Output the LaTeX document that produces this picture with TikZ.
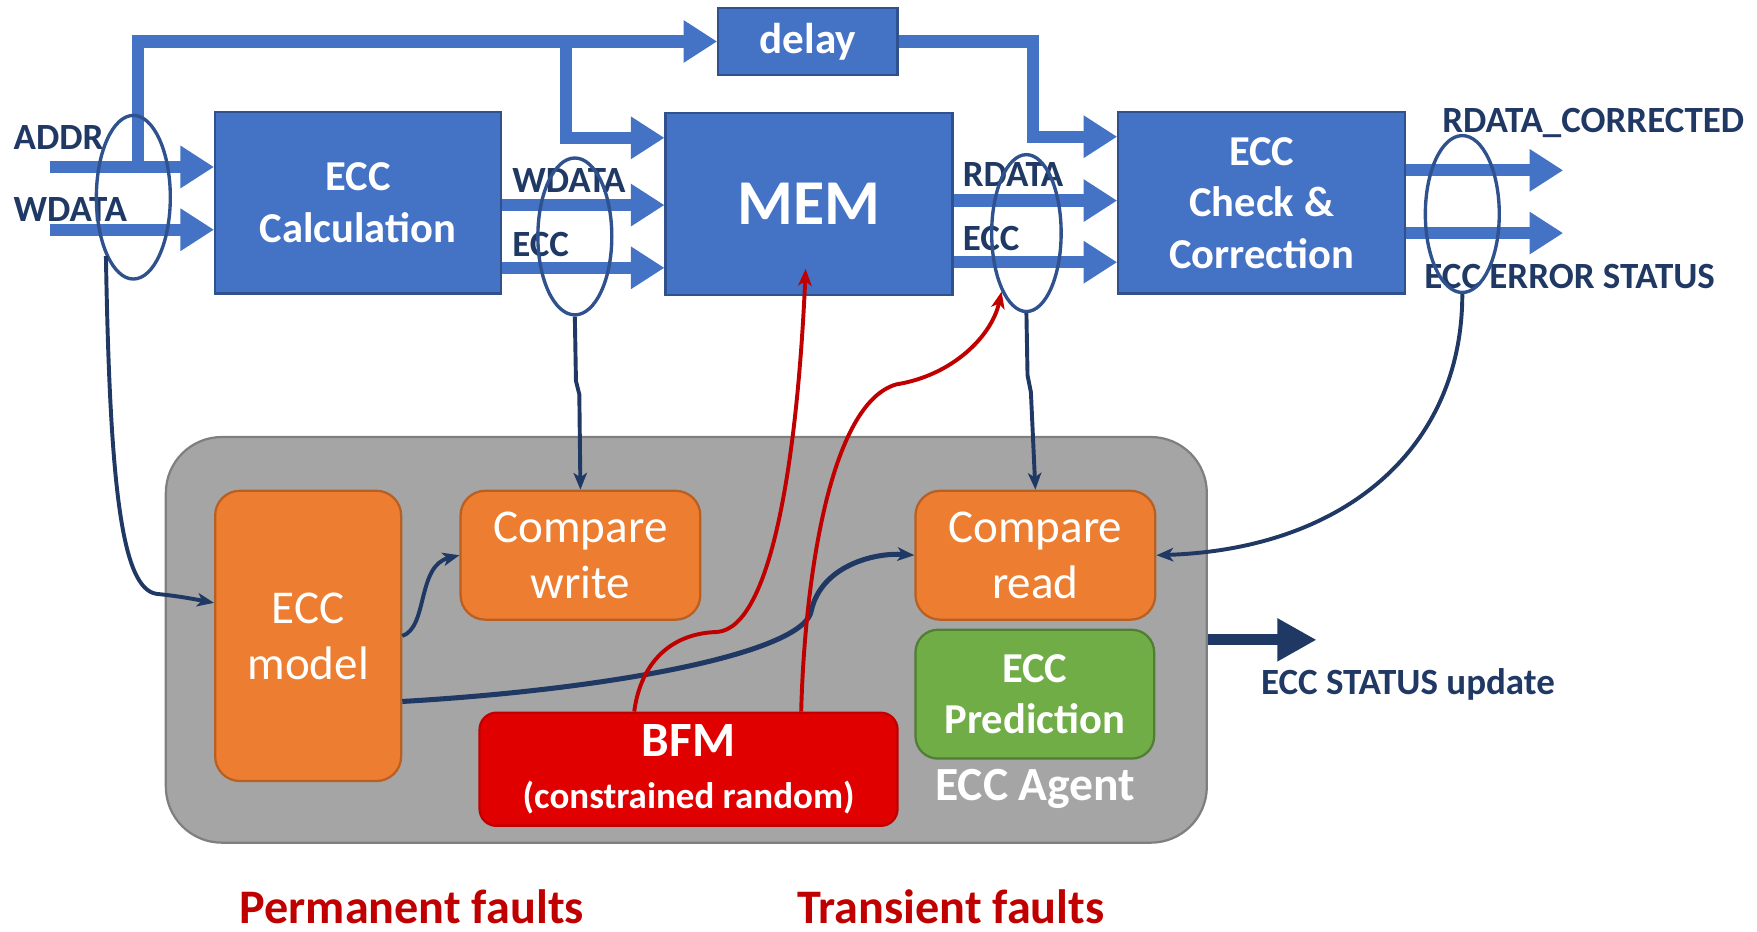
\documentclass[tikz,border=0pt]{standalone}
\usepackage{fontspec}
\setmainfont{Carlito}
\usetikzlibrary{arrows.meta,shapes.geometric}

\definecolor{busblue}{HTML}{4472C4}
\definecolor{blkedge}{HTML}{2F528F}
\definecolor{ringblue}{HTML}{2F528F}
\definecolor{navy}{HTML}{203864}
\definecolor{faultred}{HTML}{C00000}
\definecolor{bfmred}{HTML}{E00000}
\definecolor{orangefill}{HTML}{ED7D31}
\definecolor{orangeedge}{HTML}{B85F22}
\definecolor{greenfill}{HTML}{70AD47}
\definecolor{greenedge}{HTML}{507E32}
\definecolor{agentgray}{HTML}{A5A5A5}
\definecolor{agentedge}{HTML}{7F7F7F}

\newcommand\fsz[2]{\fontsize{#1}{#2}\selectfont}

\tikzset{
  hwblock/.style={draw=blkedge, fill=busblue, line width=2pt, text=white,
    align=center, inner sep=0pt},
  bus/.style={draw=busblue, line width=11pt, line join=miter,
    -{Triangle[length=30pt,width=36pt]}},
  busline/.style={draw=busblue, line width=11pt, line join=miter},
  sigtext/.style={text=navy, font=\fsz{33}{38}\bfseries, anchor=west, inner sep=0pt},
  ring/.style={ellipse, draw=ringblue, line width=3pt, inner sep=0pt},
  wire/.style={draw=navy, line width=3.5pt, -{Stealth[length=15pt,width=12pt,inset=4pt]}},
  fault/.style={draw=faultred, line width=3.5pt, -{Stealth[length=15pt,width=12pt,inset=4pt]}},
  orangebox/.style={draw=orangeedge, fill=orangefill, line width=2pt, rounded corners=22pt,
    text=white, align=center, inner sep=0pt, font=\fsz{42}{50}},
  greenbox/.style={draw=greenedge, fill=greenfill, line width=2pt, rounded corners=20pt,
    text=white, align=center, inner sep=0pt, font=\fsz{38}{46}\bfseries},
}

\begin{document}
\begin{tikzpicture}[x=1pt, y=-1pt]
\useasboundingbox (0,0) rectangle (1568,831);

% ---------- datapath blocks ----------
\node[hwblock, minimum width=255pt, minimum height=162pt, font=\fsz{38}{46}\bfseries]
  (calc) at (319.5,181) {ECC\\Calculation};
\node[hwblock, minimum width=256pt, minimum height=162pt, font=\fsz{57}{60}\bfseries]
  (mem) at (722,182) {MEM};
\node[hwblock, minimum width=256pt, minimum height=162pt, font=\fsz{38}{46}\bfseries]
  (chk) at (1126,181) {ECC\\Check \&\\Correction};
\node[hwblock, minimum width=160pt, minimum height=60pt, font=\fsz{38.5}{40}\bfseries]
  (delay) at (721,37) {delay};

% ---------- bus end points ----------
\coordinate (inA) at (45,149);
\coordinate (inW) at (45,205);
\coordinate (outR) at (1395,152);
\coordinate (outS) at (1395,208);

% ---------- buses ----------
\draw[busline] (123,149) -- (123,37) -- (505,37);
\draw[bus] (505,37) -- (delay.west);
\draw[bus] (505,37) -- (505,123) -- (mem.west |- 0,123);
\draw[bus] (delay.east) -- (922,37) -- (922,122) -- (chk.west |- 0,122);
\draw[bus] (inA) -- (calc.west |- inA);
\draw[bus] (inW) -- (calc.west |- inW);
\draw[bus] (calc.east |- 0,183) -- (mem.west |- 0,183);
\draw[bus] (calc.east |- 0,239) -- (mem.west |- 0,239);
\draw[bus] (mem.east |- 0,179) -- (chk.west |- 0,179);
\draw[bus] (mem.east |- 0,234) -- (chk.west |- 0,234);
\draw[bus] (chk.east |- outR) -- (outR);
\draw[bus] (chk.east |- outS) -- (outS);

% ---------- signal names ----------
\node[sigtext] (lAddr) at (12,123) {ADDR};
\node[sigtext] (lWdata) at (12,187) {WDATA};
\node[sigtext] (lWdata2) at (457,161) {WDATA};
\node[sigtext] (lEcc1) at (457,218) {ECC};
\node[sigtext] (lRdata) at (859,156) {RDATA};
\node[sigtext] (lEcc2) at (859,213) {ECC};
\node[sigtext] (lRcorr) at (1287,110) {RDATA\_CORRECTED};
\node[sigtext] (lErr) at (1271,247) {ECC ERROR STATUS};

% ---------- probe rings ----------
\node[ring, minimum width=66pt, minimum height=146pt] (e1) at (119,176) {};
\node[ring, minimum width=66pt, minimum height=140pt] (e2) at (513,211) {};
\node[ring, minimum width=62pt, minimum height=140pt] (e3) at (916,208) {};
\node[ring, minimum width=66pt, minimum height=140pt] (e4) at (1305,191) {};

% ---------- ECC agent ----------
\node[draw=agentedge, fill=agentgray, line width=2pt, rounded corners=50pt,
  minimum width=929pt, minimum height=362pt, inner sep=0pt] (agent) at (612.5,571) {};
\node[orangebox, minimum width=166pt, minimum height=259pt] (model) at (275,567.5) {ECC\\model};
\node[orangebox, minimum width=214pt, minimum height=115pt] (cw) at (518,495.5) {Compare\\write};
\node[orangebox, minimum width=214pt, minimum height=115pt] (cr) at (924,495.5) {Compare\\read};
\node[greenbox, minimum width=213pt, minimum height=115pt] (pred) at (923.5,619.5) {ECC\\Prediction};
\node[draw=faultred, fill=bfmred, line width=2pt, rounded corners=15pt,
  minimum width=373pt, minimum height=101pt, inner sep=0pt, text=white, align=center,
  font=\fsz{33}{46}\bfseries]
  (bfm) at (614.5,686.5)
  {\fsz{44}{46}BFM\\\fsz{33}{46}(constrained random)};
\node[text=white, font=\fsz{42.5}{46}\bfseries, inner sep=0pt] (agentlbl) at (924,704) {ECC Agent};

% ---------- monitor connections ----------
\draw[wire] (e1.245) .. controls (98,430) and (108,526) .. (140,530)
  .. controls (160,532) and (175,535) .. ([yshift=29.5pt]model.west);
\draw[wire] (e2.south) -- (514,340) -- (517,352) -- (cw.north);
\draw[wire] (e3.south) -- (917,335) -- (920,350) -- (cr.north);
\draw[wire] (e4.south) .. controls (1305,400) and (1200,490) .. (cr.east);
\draw[wire] (model.east) .. controls (382,560) and (372,505) .. (cw.west);
\draw[wire, line width=4.5pt] ([yshift=-58.5pt]model.east)
  .. controls (550,615) and (718,582) .. (724,545)
  .. controls (733,505) and (780,493) .. (cr.west);

% ---------- fault injection ----------
\draw[fault] ([xshift=-48.5pt]bfm.north) .. controls (572,590) and (600,565) .. (640,564)
  .. controls (690,560) and (712,400) .. ([xshift=-3pt,yshift=24pt]mem.south);
\draw[fault] ([xshift=100.5pt]bfm.north) .. controls (718,520) and (740,360) .. (800,343)
  .. controls (850,335) and (885,300) .. (e3.247);

% ---------- status output ----------
\coordinate (statusEnd) at (1175,571);
\draw[draw=navy, line width=10pt, -{Triangle[length=35pt,width=36pt]}] (agent.east) -- (statusEnd);
\node[text=navy, font=\fsz{33}{38}\bfseries, inner sep=0pt] (lStatus) at (1256.5,611) {ECC STATUS update};

% ---------- fault classes ----------
\node[text=faultred, font=\fsz{43}{48}\bfseries, inner sep=0pt] (lPerm) at (367.5,809) {Permanent faults};
\node[text=faultred, font=\fsz{43}{48}\bfseries, inner sep=0pt] (lTrans) at (848.5,809) {Transient faults};
\end{tikzpicture}
\end{document}
